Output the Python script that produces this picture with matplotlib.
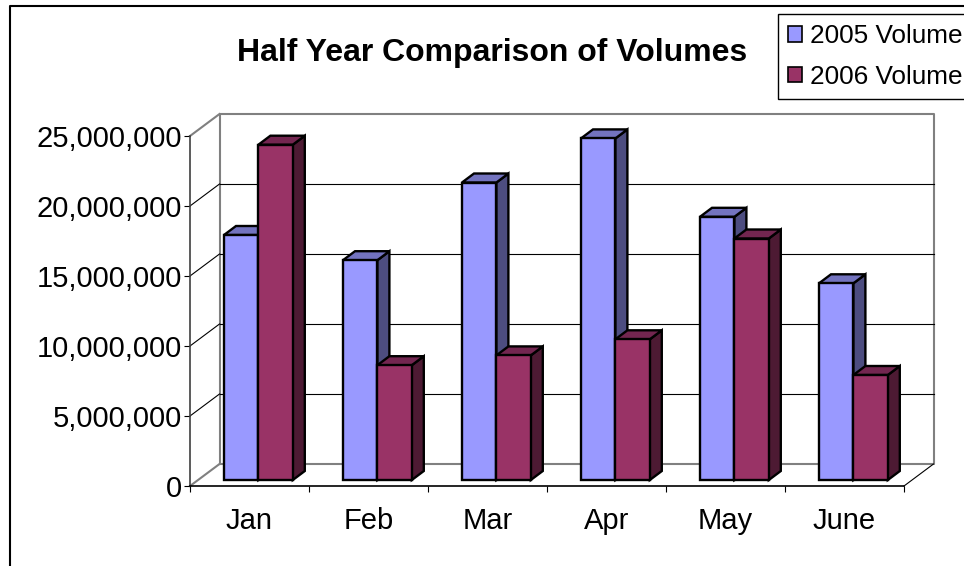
import numpy as np
import matplotlib
matplotlib.use("Agg")
import matplotlib.pyplot as plt
from matplotlib.lines import Line2D
from matplotlib.patches import Patch
from matplotlib.ticker import FuncFormatter

months = ["Jan", "Feb", "Mar", "Apr", "May", "June"]
vol_2005 = [17500000, 15700000, 21250000, 24400000, 18800000, 14050000]
vol_2006 = [23950000, 8200000, 8900000, 10050000, 17250000, 7500000]
y_ticks = [0, 5000000, 10000000, 15000000, 20000000, 25000000]
series_names = ["2005 Volume", "2006 Volume"]

W, H = 964, 566
plt.rcParams['font.family'] = ['Liberation Sans', 'DejaVu Sans']

fig = plt.figure(figsize=(W / 100, H / 100), dpi=100)
ax = fig.add_axes([190 / W, 1 - 486 / H, (904 - 190) / W, (486 - 136) / H])
ax.set_xlim(0, len(months))
ax.set_ylim(0, 25000000)

# pixel -> data units, the fake 3D depth is all done with these
px_x = len(months) / (904 - 190)
px_y = 25000000 / (486 - 136)
wall_dx, wall_dy = 29.5 * px_x, 22 * px_y
bar_dx, bar_dy = 12 * px_x, 9 * px_y
lift = 6 * px_y
bar_w = 34.4 * px_x
shift = 8.9 * px_x
edge = 1.7

# back wall and floor
top = y_ticks[-1]
n = len(months)
wall_col = "#808080"
ax.plot([wall_dx, wall_dx, n + wall_dx, n + wall_dx, wall_dx],
        [wall_dy, top + wall_dy, top + wall_dy, wall_dy, wall_dy],
        color=wall_col, lw=1.5, clip_on=False, zorder=1)
ax.plot([0, wall_dx], [top, top + wall_dy], color=wall_col, lw=1.5, clip_on=False, zorder=1)
ax.plot([0, wall_dx], [0, wall_dy], color=wall_col, lw=1.5, clip_on=False, zorder=1)
ax.plot([n, n + wall_dx], [0, wall_dy], color="black", lw=0.8, clip_on=False, zorder=1)

# grid lines on the wall plus the short diagonals to the axis
for t in y_ticks[1:-1]:
    ax.plot([wall_dx, n + wall_dx], [t + wall_dy, t + wall_dy], color="black", lw=0.8, clip_on=False, zorder=1)
    ax.plot([0, wall_dx], [t, t + wall_dy], color="black", lw=0.8, clip_on=False, zorder=1)


def draw_bar(x, val, front, side_col, top_col, z):
    ax.bar(x, val, bar_w, bottom=lift, align="edge", color=front, edgecolor="black",
           linewidth=edge, zorder=z + 1, clip_on=False)
    x1 = x + bar_w
    y1 = val + lift
    ax.fill([x1, x1 + bar_dx, x1 + bar_dx, x1], [lift, lift + bar_dy, y1 + bar_dy, y1],
            facecolor=side_col, edgecolor="black", linewidth=edge, zorder=z, clip_on=False)
    ax.fill([x, x + bar_dx, x1 + bar_dx, x1], [y1, y1 + bar_dy, y1 + bar_dy, y1],
            facecolor=top_col, edgecolor="black", linewidth=edge, zorder=z, clip_on=False)


for i in range(n):
    x0 = i + 0.5 + shift
    draw_bar(x0 - bar_w, vol_2005[i], "#9999FF", "#4D4D80", "#7373BF", 3 + i * 3)
    draw_bar(x0, vol_2006[i], "#993366", "#4D1A33", "#732650", 4 + i * 3)

# axes
ax.patch.set_visible(False)
ax.spines["top"].set_visible(False)
ax.spines["right"].set_visible(False)
ax.spines["left"].set_color("#404040")
ax.spines["left"].set_linewidth(1.2)
ax.spines["bottom"].set_linewidth(1.2)
ax.spines["bottom"].set_zorder(50)

ax.set_yticks(y_ticks)
ax.yaxis.set_major_formatter(FuncFormatter(lambda v, pos: f"{int(v):,}"))
ax.tick_params(axis="y", length=4.5, width=0.8, pad=1.5, labelsize=21)
ax.set_xticks(np.arange(n + 1))
ax.set_xticklabels([])
ax.set_xticks(np.arange(n) + 0.5, minor=True)
ax.set_xticklabels(months, minor=True)
ax.tick_params(axis="x", which="major", length=4.5, width=0.8)
ax.tick_params(axis="x", which="minor", length=0, pad=15, labelsize=21)

# title and legend
fig.text(492.5 / W, 1 - 53 / H, "Half Year Comparison of Volumes", ha="center", va="center",
         fontsize=23, fontweight="bold")

handles = [Patch(facecolor="#9999FF", edgecolor="black", linewidth=1.2),
           Patch(facecolor="#993366", edgecolor="black", linewidth=1.2)]
fig.legend(handles, series_names, loc="upper left", bbox_to_anchor=(777.5 / W, 1 - 14 / H),
           fontsize=18.8, frameon=True, fancybox=False, edgecolor="black", framealpha=1,
           handlelength=0.55, handleheight=0.55, handletextpad=0.3, labelspacing=0.62,
           borderpad=0.4, borderaxespad=0)

# outer chart frame, runs off the right and bottom of the picture
fig.add_artist(Line2D([10 / W, 10 / W, 1.01], [-0.01, 1 - 6 / H, 1 - 6 / H], color="black", lw=1.5))

fig.savefig("out.png", dpi=100)
